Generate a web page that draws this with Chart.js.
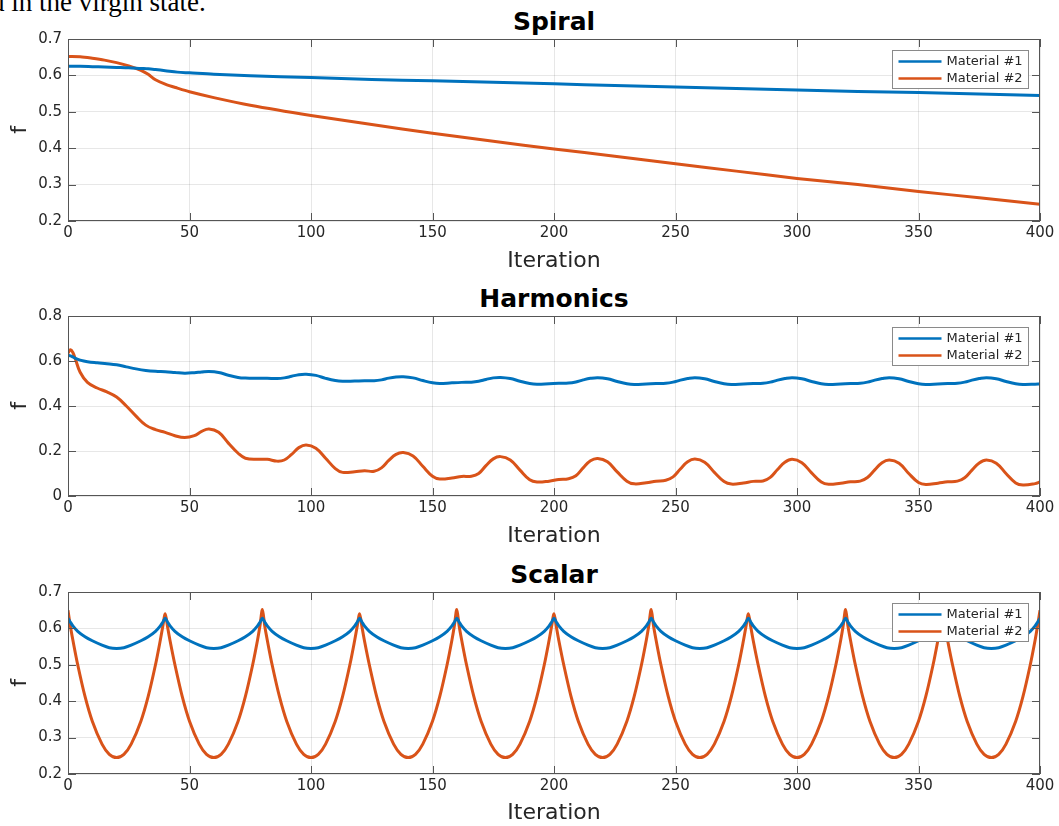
<!DOCTYPE html>
<html>
<head>
<meta charset="utf-8">
<script src="https://cdn.jsdelivr.net/npm/chart.js@4.4.1/dist/chart.umd.min.js"></script>
<style>
  html, body { margin: 0; padding: 0; background: #fff; }
  body { width: 1059px; height: 826px; position: relative; overflow: hidden; }
  canvas { position: absolute; left: 0; }
  .caption { position: absolute; left: -9px; top: -11px; font: 27px/27px "Liberation Serif", serif; color: #000; white-space: nowrap; }
  .ptitle { position: absolute; left: 68px; width: 972px; text-align: center; font: bold 25px/30px "DejaVu Sans", sans-serif; color: #000; }
</style>
</head>
<body>
<div class="caption">d in the virgin state.</div>
<div class="ptitle" style="top:7px">Spiral</div>
<div class="ptitle" style="top:284px">Harmonics</div>
<div class="ptitle" style="top:560px">Scalar</div>
<canvas id="spiral" width="1059" height="280" style="top:0"></canvas>
<canvas id="harmonics" width="1059" height="276" style="top:280px"></canvas>
<canvas id="scalar" width="1059" height="270" style="top:556px"></canvas>
<script>
// ---- data ----
const seriesNames = ['Material #1', 'Material #2'];

const spiralIter = [0, 5, 10, 15, 20, 25, 30, 33, 36, 40, 45, 50, 60, 75, 100, 125, 150, 175, 200, 225, 250, 275, 300, 325, 350, 375, 400];
const spiralMat1 = [0.625, 0.625, 0.624, 0.623, 0.622, 0.621, 0.619, 0.618, 0.616, 0.613, 0.609, 0.607, 0.603, 0.599, 0.594, 0.589, 0.585, 0.581, 0.577, 0.572, 0.568, 0.564, 0.560, 0.556, 0.553, 0.549, 0.545];
const spiralMat2 = [0.652, 0.651, 0.647, 0.642, 0.635, 0.626, 0.614, 0.603, 0.588, 0.576, 0.565, 0.555, 0.539, 0.518, 0.490, 0.465, 0.441, 0.419, 0.398, 0.378, 0.357, 0.337, 0.317, 0.300, 0.281, 0.264, 0.246];

const harmIter = [0, 1, 2, 3, 5, 8, 12, 16, 20, 24, 28, 32, 36, 40, 44, 48, 52, 55, 58, 62, 66, 70, 73, 78, 82, 86, 89, 92, 95, 98,
  102, 106, 110, 113, 118, 122, 126, 129, 132, 135, 138,
  142, 146, 150, 153, 158, 162, 166, 169, 172, 175, 178,
  182, 186, 190, 193, 198, 202, 206, 209, 212, 215, 218,
  222, 226, 230, 233, 238, 242, 246, 249, 252, 255, 258,
  262, 266, 270, 273, 278, 282, 286, 289, 292, 295, 298,
  302, 306, 310, 313, 318, 322, 326, 329, 332, 335, 338,
  342, 346, 350, 353, 358, 362, 366, 369, 372, 375, 378,
  382, 386, 390, 393, 398, 400];
const harmMat1 = [0.625, 0.623, 0.618, 0.612, 0.604, 0.597, 0.592, 0.588, 0.583, 0.574, 0.565, 0.558, 0.554, 0.552, 0.549, 0.546, 0.548, 0.551, 0.553, 0.549, 0.537, 0.527, 0.524, 0.523, 0.523, 0.522, 0.525, 0.532, 0.539, 0.541,
  0.536, 0.523, 0.513, 0.510, 0.511, 0.512, 0.512, 0.516, 0.524, 0.529, 0.530,
  0.525, 0.513, 0.503, 0.500, 0.503, 0.505, 0.506, 0.510, 0.518, 0.525, 0.527,
  0.522, 0.510, 0.500, 0.497, 0.499, 0.501, 0.502, 0.507, 0.516, 0.523, 0.526,
  0.521, 0.509, 0.499, 0.496, 0.498, 0.500, 0.501, 0.506, 0.515, 0.522, 0.526,
  0.521, 0.509, 0.499, 0.496, 0.498, 0.500, 0.501, 0.506, 0.515, 0.522, 0.526,
  0.521, 0.509, 0.499, 0.496, 0.498, 0.500, 0.501, 0.506, 0.515, 0.522, 0.526,
  0.521, 0.509, 0.499, 0.496, 0.498, 0.500, 0.501, 0.506, 0.515, 0.522, 0.526,
  0.521, 0.509, 0.499, 0.496, 0.497, 0.498];
const harmMat2 = [0.635, 0.650, 0.638, 0.610, 0.550, 0.505, 0.480, 0.463, 0.440, 0.400, 0.355, 0.315, 0.295, 0.283, 0.268, 0.260, 0.268, 0.287, 0.298, 0.283, 0.235, 0.190, 0.168, 0.163, 0.163, 0.155, 0.160, 0.185, 0.215, 0.227,
  0.212, 0.168, 0.122, 0.105, 0.108, 0.112, 0.110, 0.125, 0.158, 0.185, 0.193,
  0.178, 0.132, 0.088, 0.076, 0.080, 0.087, 0.088, 0.100, 0.135, 0.165, 0.175,
  0.160, 0.115, 0.072, 0.062, 0.066, 0.073, 0.077, 0.090, 0.125, 0.157, 0.167,
  0.152, 0.107, 0.066, 0.054, 0.059, 0.066, 0.070, 0.085, 0.120, 0.152, 0.164,
  0.150, 0.105, 0.064, 0.053, 0.058, 0.065, 0.067, 0.083, 0.118, 0.150, 0.163,
  0.148, 0.103, 0.062, 0.052, 0.057, 0.063, 0.066, 0.082, 0.116, 0.148, 0.160,
  0.146, 0.100, 0.060, 0.051, 0.057, 0.063, 0.066, 0.081, 0.115, 0.147, 0.160,
  0.146, 0.100, 0.058, 0.049, 0.055, 0.062];

const scalarIter = [0, 1, 2, 4, 7, 10, 14, 17, 20, 23, 26, 30, 33, 36, 38, 39,
  40, 41, 42, 44, 47, 50, 54, 57, 60, 63, 66, 70, 73, 76, 78, 79,
  80, 81, 82, 84, 87, 90, 94, 97, 100, 103, 106, 110, 113, 116, 118, 119,
  120, 121, 122, 124, 127, 130, 134, 137, 140, 143, 146, 150, 153, 156, 158, 159,
  160, 161, 162, 164, 167, 170, 174, 177, 180, 183, 186, 190, 193, 196, 198, 199,
  200, 201, 202, 204, 207, 210, 214, 217, 220, 223, 226, 230, 233, 236, 238, 239,
  240, 241, 242, 244, 247, 250, 254, 257, 260, 263, 266, 270, 273, 276, 278, 279,
  280, 281, 282, 284, 287, 290, 294, 297, 300, 303, 306, 310, 313, 316, 318, 319,
  320, 321, 322, 324, 327, 330, 334, 337, 340, 343, 346, 350, 353, 356, 358, 359,
  360, 361, 362, 364, 367, 370, 374, 377, 380, 383, 386, 390, 393, 396, 398, 399,
  400];
const scalarMat1 = [0.628, 0.617, 0.607, 0.592, 0.577, 0.566, 0.554, 0.547, 0.545, 0.547, 0.554, 0.566, 0.577, 0.592, 0.607, 0.617,
  0.628, 0.617, 0.607, 0.592, 0.577, 0.566, 0.554, 0.547, 0.545, 0.547, 0.554, 0.566, 0.577, 0.592, 0.607, 0.617,
  0.628, 0.617, 0.607, 0.592, 0.577, 0.566, 0.554, 0.547, 0.545, 0.547, 0.554, 0.566, 0.577, 0.592, 0.607, 0.617,
  0.628, 0.617, 0.607, 0.592, 0.577, 0.566, 0.554, 0.547, 0.545, 0.547, 0.554, 0.566, 0.577, 0.592, 0.607, 0.617,
  0.628, 0.617, 0.607, 0.592, 0.577, 0.566, 0.554, 0.547, 0.545, 0.547, 0.554, 0.566, 0.577, 0.592, 0.607, 0.617,
  0.628, 0.617, 0.607, 0.592, 0.577, 0.566, 0.554, 0.547, 0.545, 0.547, 0.554, 0.566, 0.577, 0.592, 0.607, 0.617,
  0.628, 0.617, 0.607, 0.592, 0.577, 0.566, 0.554, 0.547, 0.545, 0.547, 0.554, 0.566, 0.577, 0.592, 0.607, 0.617,
  0.628, 0.617, 0.607, 0.592, 0.577, 0.566, 0.554, 0.547, 0.545, 0.547, 0.554, 0.566, 0.577, 0.592, 0.607, 0.617,
  0.628, 0.617, 0.607, 0.592, 0.577, 0.566, 0.554, 0.547, 0.545, 0.547, 0.554, 0.566, 0.577, 0.592, 0.607, 0.617,
  0.628, 0.617, 0.607, 0.592, 0.577, 0.566, 0.554, 0.547, 0.545, 0.547, 0.554, 0.566, 0.577, 0.592, 0.607, 0.617,
  0.628];
const scalarMat2 = [0.650, 0.605, 0.568, 0.500, 0.413, 0.345, 0.282, 0.254, 0.245, 0.254, 0.282, 0.345, 0.413, 0.500, 0.568, 0.605,
  0.640, 0.603, 0.566, 0.500, 0.413, 0.345, 0.282, 0.254, 0.245, 0.254, 0.282, 0.345, 0.413, 0.500, 0.568, 0.607,
  0.652, 0.605, 0.568, 0.500, 0.413, 0.345, 0.282, 0.254, 0.245, 0.254, 0.282, 0.345, 0.413, 0.500, 0.568, 0.605,
  0.640, 0.603, 0.566, 0.500, 0.413, 0.345, 0.282, 0.254, 0.245, 0.254, 0.282, 0.345, 0.413, 0.500, 0.568, 0.607,
  0.652, 0.605, 0.568, 0.500, 0.413, 0.345, 0.282, 0.254, 0.245, 0.254, 0.282, 0.345, 0.413, 0.500, 0.568, 0.605,
  0.640, 0.603, 0.566, 0.500, 0.413, 0.345, 0.282, 0.254, 0.245, 0.254, 0.282, 0.345, 0.413, 0.500, 0.568, 0.607,
  0.652, 0.605, 0.568, 0.500, 0.413, 0.345, 0.282, 0.254, 0.245, 0.254, 0.282, 0.345, 0.413, 0.500, 0.568, 0.605,
  0.640, 0.603, 0.566, 0.500, 0.413, 0.345, 0.282, 0.254, 0.245, 0.254, 0.282, 0.345, 0.413, 0.500, 0.568, 0.607,
  0.652, 0.605, 0.568, 0.500, 0.413, 0.345, 0.282, 0.254, 0.245, 0.254, 0.282, 0.345, 0.413, 0.500, 0.568, 0.605,
  0.640, 0.603, 0.566, 0.500, 0.413, 0.345, 0.282, 0.254, 0.245, 0.254, 0.282, 0.345, 0.413, 0.500, 0.568, 0.607,
  0.650];

const lineColors = ['#0072BD', '#D95319'];

Chart.defaults.font.family = '"DejaVu Sans", sans-serif';
Chart.defaults.color = '#262626';

// box round the axes with inward ticks, like the original
const boxPlugin = {
  id: 'axesBox',
  afterDraw(chart) {
    const { ctx, chartArea: a, scales } = chart;
    ctx.save();
    ctx.strokeStyle = '#555';
    ctx.lineWidth = 1;
    ctx.strokeRect(Math.round(a.left) + 0.5, Math.round(a.top) + 0.5, Math.round(a.width) - 1, Math.round(a.height) - 1);
    ctx.beginPath();
    scales.x.ticks.forEach(t => {
      const px = Math.round(scales.x.getPixelForValue(t.value)) + 0.5;
      ctx.moveTo(px, a.bottom); ctx.lineTo(px, a.bottom - 8);
      ctx.moveTo(px, a.top); ctx.lineTo(px, a.top + 8);
    });
    scales.y.ticks.forEach(t => {
      const py = Math.round(scales.y.getPixelForValue(t.value)) + 0.5;
      ctx.moveTo(a.left, py); ctx.lineTo(a.left + 8, py);
      ctx.moveTo(a.right, py); ctx.lineTo(a.right - 8, py);
    });
    ctx.stroke();
    ctx.restore();
  }
};

// legend box drawn inside the plot, on top of the lines
const legendPlugin = {
  id: 'insideLegend',
  afterDatasetsDraw(chart) {
    const { ctx, chartArea: a } = chart;
    const w = 136, h = 38;
    const x0 = Math.round(a.right - 12 - w) + 0.5, y0 = Math.round(a.top + 11) + 0.5;
    ctx.save();
    ctx.fillStyle = '#fff';
    ctx.fillRect(x0, y0, w, h);
    ctx.strokeStyle = '#8a8a8a';
    ctx.lineWidth = 1;
    ctx.strokeRect(x0, y0, w, h);
    ctx.font = '13px "DejaVu Sans", sans-serif';
    ctx.textBaseline = 'middle';
    ctx.textAlign = 'left';
    chart.data.datasets.forEach((ds, i) => {
      const yy = y0 + 11 + i * 17;
      ctx.strokeStyle = ds.borderColor;
      ctx.lineWidth = 2.6;
      ctx.beginPath();
      ctx.moveTo(x0 + 6, yy); ctx.lineTo(x0 + 49, yy);
      ctx.stroke();
      ctx.fillStyle = '#262626';
      ctx.fillText(ds.label, x0 + 54, yy);
    });
    ctx.restore();
  }
};

function makeChart(id, iters, s1, s2, yMin, yMax, yStep, padTop, padBottom, xHeight, tension) {
  const pts = s => s.map((v, i) => ({ x: iters[i], y: v }));
  return new Chart(document.getElementById(id), {
    type: 'line',
    data: {
      datasets: [s1, s2].map((s, i) => ({
        label: seriesNames[i],
        data: pts(s),
        borderColor: lineColors[i],
        borderWidth: 3,
        pointRadius: 0,
        fill: false,
        tension: tension
      }))
    },
    options: {
      responsive: false,
      animation: false,
      layout: { padding: { top: padTop, bottom: padBottom, left: 0, right: 19 } },
      plugins: { legend: { display: false }, tooltip: { enabled: false } },
      scales: {
        x: {
          type: 'linear', min: 0, max: 400,
          ticks: { stepSize: 50, padding: 3, font: { size: 15 }, maxRotation: 0 },
          grid: { color: 'rgba(38,38,38,0.11)', drawTicks: false },
          border: { display: false },
          title: { display: true, text: 'Iteration', font: { size: 22 }, padding: { top: 0, bottom: 0 } },
          afterFit: s => { s.height = xHeight; }
        },
        y: {
          min: yMin, max: yMax,
          ticks: { stepSize: yStep, padding: 6, font: { size: 15 } },
          grid: { color: 'rgba(38,38,38,0.11)', drawTicks: false },
          border: { display: false },
          title: { display: true, text: 'f', font: { size: 22 }, padding: { top: 7, bottom: 0 } },
          afterFit: s => { s.width = 68; }
        }
      }
    },
    plugins: [legendPlugin, boxPlugin]
  });
}

makeChart('spiral', spiralIter, spiralMat1, spiralMat2, 0.2, 0.7, 0.1, 39, 6, 53, 0.3);
makeChart('harmonics', harmIter, harmMat1, harmMat2, 0, 0.8, 0.2, 36, 7, 53, 0.4);
makeChart('scalar', scalarIter, scalarMat1, scalarMat2, 0.2, 0.7, 0.1, 36, 0, 52, 0.3);
</script>
</body>
</html>
